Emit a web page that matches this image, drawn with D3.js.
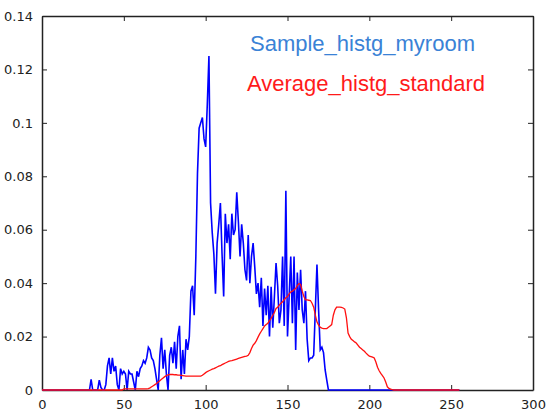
<!DOCTYPE html>
<html>
<head>
<meta charset="utf-8">
<script src="https://cdn.jsdelivr.net/npm/d3@7"></script>
<style>
  body { margin: 0; background: #fff; }
  svg { display: block; }
  .tick text { font-family: "DejaVu Sans", sans-serif; font-size: 13px; fill: #222; }
  .tick line, .domain { stroke: #222; }
</style>
</head>
<body>
<div id="chart"></div>
<script>
// histogram bins 0..255
var bins = d3.range(256)

// blue: sample histogram of my room (bin by bin)
var sampleHist = [
  0,0,0,0,0,0,0,0,0,0, 0,0,0,0,0,0,0,0,0,0,   // 0-19
  0,0,0,0,0,0,0,0,0,0,                         // 20-29
  0.004,0,0,0,0,0.0037,0.001,0,0,0.002,        // 30-39
  0.009,0.012,0.006,0.012,0.007,0.009,0.002,0,0.008,0.006,   // 40-49
  0.007,0.006,0,0.007,0.006,0.006,0.003,0,0.007,0.005,       // 50-59
  0.008,0.009,0.011,0.01,0.012,0.016,0.015,0.012,0.011,0.008, // 60-69
  0.004,0,0.013,0.0195,0.008,0.015,0.006,0,0.013,0.016,      // 70-79
  0.01,0.018,0.008,0.02,0.024,0.004,0.015,0.006,0.019,0.015, // 80-89
  0.02,0.037,0.039,0.028,0.05,0.081,0.098,0.1,0.102,0.094,   // 90-99
  0.091,0.107,0.125,0.07,0.059,0.051,0.036,0.055,0.062,0.07, // 100-109
  0.051,0.035,0.066,0.055,0.062,0.049,0.066,0.058,0.06,0.074, // 110-119
  0.063,0.05,0.062,0.055,0.045,0.041,0.058,0.04,0.05,0.055,  // 120-129
  0.046,0.036,0.04,0.031,0.042,0.024,0.038,0.028,0.039,0.02, // 130-139
  0.0386,0.0233,0.035,0.0475,0.039,0.025,0.03,0.05,0.024,0.0746, // 140-149
  0.02,0.035,0.05,0.025,0.05,0.015,0.044,0.03,0.045,0.03,    // 150-159
  0.025,0.037,0.019,0.011,0.012,0.012,0.013,0.03,0.047,0.03, // 160-169
  0.015,0.016,0.014,0.0075,0.0037,0,0,0,0,0,                 // 170-179
  0,0,0,0,0,0,0,0,0,0, 0,0,0,0,0,0,0,0,0,0,   // 180-199
  0,0,0,0,0,0,0,0,0,0, 0,0,0,0,0,0,0,0,0,0,   // 200-219
  0,0,0,0,0,0,0,0,0,0, 0,0,0,0,0,0,0,0,0,0,   // 220-239
  0,0,0,0,0,0,0,0,0,0, 0,0,0,0,0,0            // 240-255
]

// red: average standard histogram
var avgHist = [
  0,0,0,0,0,0,0,0,0,0, 0,0,0,0,0,0,0,0,0,0,   // 0-19
  0,0,0,0,0,0,0,0,0,0, 0,0,0,0,0,0,0,0,0,0,   // 20-39
  0,0,0,0,0,0,0,0,0,0,                         // 40-49
  0.0004,0.0004,0.0004,0.0004,0.0004,0.0004,0.0004,0.0004,0.0004,0.0004, // 50-59
  0.0004,0.0004,0.0004,0.0004,0.0004,0.0005,0.0008,0.0012,0.0016,0.002,  // 60-69
  0.0024,0.003,0.0035,0.004,0.0045,0.005,0.0054,0.0057,0.0058,0.0058,    // 70-79
  0.0058,0.0057,0.0057,0.0056,0.0056,0.0055,0.0054,0.0053,0.0052,0.0052, // 80-89
  0.0052,0.0052,0.0052,0.0052,0.0052,0.0052,0.0052,0.0052,0.0055,0.006,  // 90-99
  0.0065,0.0069,0.0072,0.0075,0.0078,0.008,0.0083,0.0086,0.0089,0.0091,  // 100-109
  0.0095,0.0098,0.0101,0.0104,0.0107,0.0109,0.011,0.0112,0.0114,0.0116,  // 110-119
  0.0118,0.012,0.0122,0.0124,0.0126,0.0127,0.013,0.014,0.0155,0.0168,    // 120-129
  0.0175,0.0185,0.0198,0.021,0.022,0.023,0.024,0.0245,0.025,0.026,       // 130-139
  0.0268,0.028,0.029,0.0305,0.031,0.0318,0.0325,0.033,0.0338,0.0345,     // 140-149
  0.035,0.036,0.0367,0.037,0.0375,0.038,0.039,0.0398,0.0395,0.037,       // 150-159
  0.035,0.0337,0.0337,0.0336,0.0335,0.0325,0.031,0.028,0.0255,0.0243,    // 160-169
  0.0235,0.0232,0.023,0.023,0.023,0.0235,0.024,0.0245,0.028,0.03,        // 170-179
  0.031,0.031,0.031,0.0309,0.0307,0.0303,0.027,0.0213,0.02,0.019,        // 180-189
  0.0185,0.018,0.0176,0.0168,0.016,0.0155,0.015,0.0145,0.0138,0.0132,    // 190-199
  0.0127,0.0125,0.0123,0.012,0.0105,0.0085,0.0072,0.0062,0.0054,0.0045,  // 200-209
  0.003,0.0012,0.0006,0.0003,0.0001,0,0,0,0,0,                          // 210-219
  0,0,0,0,0,0,0,0,0,0, 0,0,0,0,0,0,0,0,0,0,   // 220-239
  0,0,0,0,0,0,0,0,0,0, 0,0,0,0,0,0            // 240-255
]

var xTicks = [0, 50, 100, 150, 200, 250, 300]
var yTicks = [0, 0.02, 0.04, 0.06, 0.08, 0.1, 0.12, 0.14]
var seriesNames = ["Sample_histg_myroom", "Average_histg_standard"]

const width = 547
const height = 411
const margin = {top: 16, right: 14, bottom: 21, left: 42}
const w = width - margin.left - margin.right
const h = height - margin.top - margin.bottom

const svg = d3.select('#chart')
  .append("svg")
  .attr("width", width)
  .attr("height", height)
  .append("g")
  .attr("transform", "translate(" + margin.left + "," + margin.top + ")")

var x = d3.scaleLinear().domain([0, 300]).range([0, w])
var y = d3.scaleLinear().domain([0, 0.14]).range([h, 0])

var fmtY = function(d){ return d === 0 ? "0" : d3.format("~g")(d) }

// bottom & left with labels, top & right just inner ticks (box)
svg.append("g")
  .attr("transform", "translate(0," + h + ")")
  .call(d3.axisBottom(x).tickValues(xTicks).tickSizeInner(-5).tickSizeOuter(0).tickPadding(10))
svg.append("g")
  .call(d3.axisLeft(y).tickValues(yTicks).tickFormat(fmtY).tickSizeInner(-5).tickSizeOuter(0).tickPadding(9))
svg.append("g")
  .call(d3.axisTop(x).tickValues(xTicks).tickSizeInner(-5).tickSizeOuter(0).tickFormat(""))
svg.append("g")
  .attr("transform", "translate(" + w + ",0)")
  .call(d3.axisRight(y).tickValues(yTicks).tickSizeInner(-5).tickSizeOuter(0).tickFormat(""))

svg.selectAll(".domain").attr("stroke-width", 1.5)

var line = d3.line()
  .x(function(d){ return x(d[0]) })
  .y(function(d){ return y(d[1]) })

svg.append("path")
  .datum(d3.zip(bins, sampleHist))
  .attr("fill", "none")
  .attr("stroke", "#0000ff")
  .attr("stroke-width", 1.6)
  .attr("d", line)

svg.append("path")
  .datum(d3.zip(bins, avgHist))
  .attr("fill", "none")
  .attr("stroke", "#ff1010")
  .attr("stroke-width", 1.3)
  .attr("d", line)

// legend-like labels
svg.append("text")
  .attr("x", 250 - margin.left)
  .attr("y", 51 - margin.top)
  .style("font-family", "'Liberation Sans', Arial, sans-serif")
  .style("font-size", "22px")
  .style("fill", "#3a82d6")
  .text(seriesNames[0])

svg.append("text")
  .attr("x", 247 - margin.left)
  .attr("y", 91 - margin.top)
  .style("font-family", "'Liberation Sans', Arial, sans-serif")
  .style("font-size", "22px")
  .style("fill", "#ff1a1a")
  .text(seriesNames[1])
</script>
</body>
</html>
